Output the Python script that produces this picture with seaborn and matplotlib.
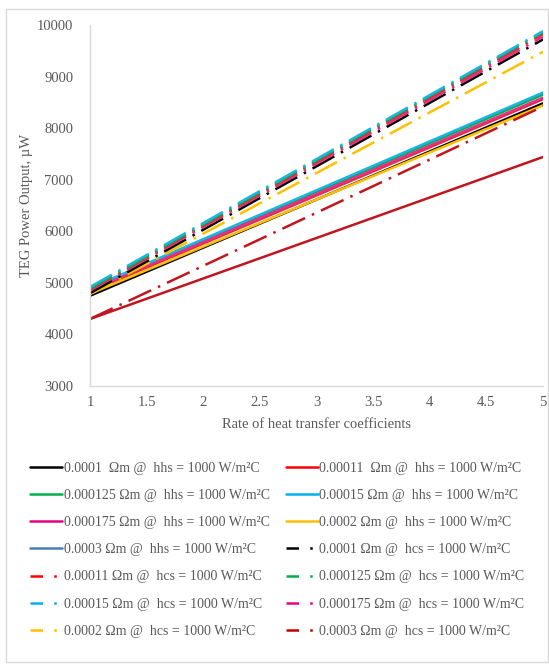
import matplotlib
matplotlib.use("Agg")
import matplotlib.pyplot as plt
import seaborn as sns
import pandas as pd
from matplotlib.lines import Line2D
from matplotlib.patches import Rectangle

sns.set_theme(style="white")
plt.rcParams['font.family'] = ['Liberation Serif', 'DejaVu Serif']

# ---- data ----
x_rate = [1, 2, 3, 4, 5]

# solid series (hhs = 1000 W/m2C)
hhs_0001 = [4750, 5683, 6615, 7548, 8480]
hhs_00011 = [4830, 5763, 6695, 7628, 8560]
hhs_000125 = [4880, 5823, 6765, 7708, 8650]
hhs_00015 = [4900, 5848, 6795, 7743, 8690]
hhs_000175 = [4860, 5793, 6725, 7658, 8590]
hhs_0002 = [4790, 5703, 6615, 7528, 8440]
hhs_0003 = [4300, 5085, 5870, 6655, 7440]

# dash-dot series (hcs = 1000 W/m2C)
hcs_0001 = [4800, 6030, 7260, 8490, 9720]
hcs_00011 = [4870, 6108, 7345, 8583, 9820]
hcs_000125 = [4890, 6133, 7375, 8618, 9860]
hcs_00015 = [4920, 6160, 7400, 8640, 9880]
hcs_000175 = [4850, 6080, 7310, 8540, 9770]
hcs_0002 = [4780, 5955, 7130, 8305, 9480]
hcs_0003 = [4300, 5330, 6360, 7390, 8420]

labels = [
    "0.0001  \u03a9m @  hhs = 1000 W/m\u00b2C",
    "0.00011  \u03a9m @  hhs = 1000 W/m\u00b2C",
    "0.000125 \u03a9m @  hhs = 1000 W/m\u00b2C",
    "0.00015 \u03a9m @  hhs = 1000 W/m\u00b2C",
    "0.000175 \u03a9m @  hhs = 1000 W/m\u00b2C",
    "0.0002 \u03a9m @  hhs = 1000 W/m\u00b2C",
    "0.0003 \u03a9m @  hhs = 1000 W/m\u00b2C",
    "0.0001 \u03a9m @  hcs = 1000 W/m\u00b2C",
    "0.00011 \u03a9m @  hcs = 1000 W/m\u00b2C",
    "0.000125 \u03a9m @  hcs = 1000 W/m\u00b2C",
    "0.00015 \u03a9m @  hcs = 1000 W/m\u00b2C",
    "0.000175 \u03a9m @  hcs = 1000 W/m\u00b2C",
    "0.0002 \u03a9m @  hcs = 1000 W/m\u00b2C",
    "0.0003 \u03a9m @  hcs = 1000 W/m\u00b2C",
]

series_hhs = [hhs_000125, hhs_00011, hhs_0001, hhs_0002, hhs_000175, hhs_00015, hhs_0003]
colors_hhs = ["#00B050", "#E8293A", "#000000", "#FFC000", "#E62E8B", "#1CB5E0", "#C0161E"]
series_hcs = [hcs_0002, hcs_0001, hcs_000175, hcs_00011, hcs_000125, hcs_00015, hcs_0003]
colors_hcs = ["#FFC000", "#000000", "#E62E8B", "#E8293A", "#00B050", "#1CB5E0", "#C0161E"]

legend_colors = ["#000000", "#FF0000", "#00B050", "#00B0F0", "#E6007E", "#FFC000", "#4A7EBB",
                 "#000000", "#FF0000", "#00B050", "#00B0F0", "#E6007E", "#FFC000", "#C00000"]

TXT = "#595959"
GRID = "#D9D9D9"
DASHDOT = (0, (10, 3, 1, 3))
LEG_DASHDOT = (0, (5, 4.5, 1, 4))

fig = plt.figure(figsize=(5.49, 6.66), dpi=100)
ax = fig.add_axes([0.164, 0.4204, 0.825, 0.5421])

for vals, c in zip(series_hhs, colors_hhs):
    df = pd.DataFrame({"x": x_rate, "y": vals})
    sns.lineplot(data=df, x="x", y="y", ax=ax, color=c, linewidth=1.8, linestyle="-")
for vals, c in zip(series_hcs, colors_hcs):
    df = pd.DataFrame({"x": x_rate, "y": vals})
    sns.lineplot(data=df, x="x", y="y", ax=ax, color=c, linewidth=1.8, linestyle=DASHDOT)

ax.set_xlim(1, 5)
ax.set_ylim(3000, 10000)
ax.set_xticks([1, 1.5, 2, 2.5, 3, 3.5, 4, 4.5, 5])
ax.set_xticklabels(["1", "1.5", "2", "2.5", "3", "3.5", "4", "4.5", "5"])
ax.set_yticks(range(3000, 10001, 1000))
ax.tick_params(axis="both", length=0, labelsize=10.5, colors=TXT)
ax.tick_params(axis="y", pad=12)
ax.tick_params(axis="x", pad=7)
for s in ["top", "right"]:
    ax.spines[s].set_visible(False)
for s in ["left", "bottom"]:
    ax.spines[s].set_color(GRID)
    ax.spines[s].set_linewidth(1.0)
ax.set_xlabel("Rate of heat transfer coefficients", color=TXT, fontsize=10.5, labelpad=7)
ax.set_ylabel("TEG Power Output, \u00b5W", color=TXT, fontsize=10.5, labelpad=3)

handles = []
for i, (lab, c) in enumerate(zip(labels, legend_colors)):
    ls = "-" if i < 7 else LEG_DASHDOT
    handles.append(Line2D([0], [0], color=c, linewidth=1.8, linestyle=ls, label=lab))
# reorder so that matplotlib's column-major filling gives row-major order
ordered = handles[0::2] + handles[1::2]

leg = fig.legend(handles=ordered, loc="upper left", bbox_to_anchor=(0.045, 0.315),
                 ncol=2, frameon=False, fontsize=10, labelcolor=TXT,
                 handlelength=2.3, handletextpad=0.1, labelspacing=1.02,
                 columnspacing=1.15, borderaxespad=0)

fig.patches.append(Rectangle((0.011, 0.006), 0.987, 0.981, transform=fig.transFigure,
                             fill=False, edgecolor=GRID, linewidth=1.0))

fig.savefig("out.png", dpi=100)
